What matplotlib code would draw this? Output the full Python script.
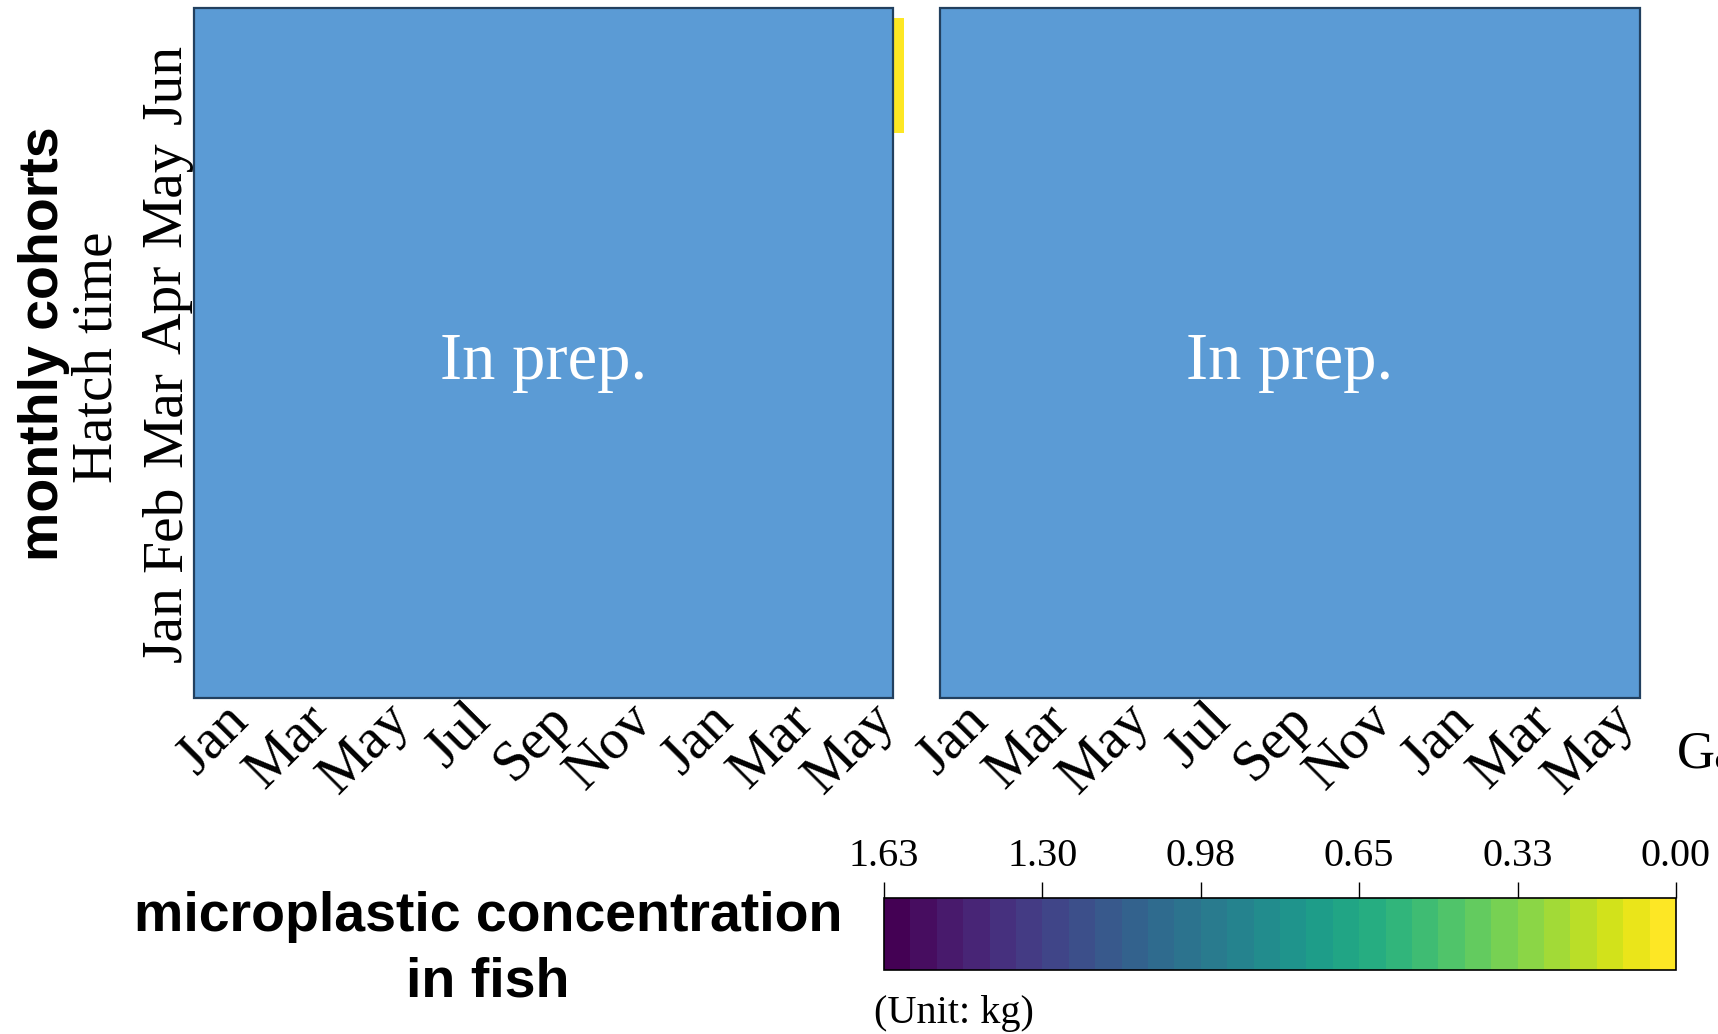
import numpy as np
import matplotlib as mpl
import matplotlib.pyplot as plt
from matplotlib.colors import Normalize
from matplotlib.patches import Rectangle

W, H = 1718, 1034
SERIF = 'Liberation Serif'
SANS = 'Liberation Sans'

months = ['Jan', 'Feb', 'Mar', 'Apr', 'May', 'Jun',
          'Jul', 'Aug', 'Sep', 'Oct', 'Nov', 'Dec']
hatch_months = ['Jan', 'Feb', 'Mar', 'Apr', 'May', 'Jun']
n_cols = 18  # Jan (year 1) .. Jun (year 2)
col_labels = [months[i % 12] for i in range(n_cols)]

# the panels are covered by "In prep." boxes; only one cell peeks out
# (Jun cohort, last column, left panel)
left_conc = np.full((len(hatch_months), n_cols), np.nan)
left_conc[5, 17] = 0.00
right_conc = np.full((len(hatch_months), n_cols), np.nan)

conc_min, conc_max = 0.0, 1.63
n_levels = 30
cbar_ticks = np.linspace(conc_max, conc_min, 6)

box_face = '#5b9bd5'
box_edge = '#22405f'

# layout (pixels from top of figure)
AX_TOP, AX_BOT = 8, 698
ROW_TOP = 18          # top of the top heat-map row
ROW_PX = 115          # height of one row
ytick_px = [624, 529, 419, 309, 194, 84]

cmap = plt.get_cmap('viridis_r', n_levels)
norm = Normalize(conc_min, conc_max)

fig = plt.figure(figsize=(W / 100, H / 100), dpi=100)


def px_axes(x0, y0, x1, y1):
    return fig.add_axes([x0 / W, 1 - y1 / H, (x1 - x0) / W, (y1 - y0) / H])


def panel(x0, x_box, x_ax, tick0, data, show_y):
    ax = px_axes(x0, AX_TOP, x_ax, AX_BOT)
    ppm = 80.75 / 2  # pixels per month
    nrow = len(hatch_months)
    ax.imshow(data, cmap=cmap, norm=norm, origin='lower', aspect='auto',
              interpolation='nearest',
              extent=(-0.5, n_cols - 0.5, -0.5, nrow - 0.5))
    ax.set_xlim((x0 - tick0) / ppm, (x_ax - tick0) / ppm)
    ytop = nrow - 0.5 + (ROW_TOP - AX_TOP) / ROW_PX
    ax.set_ylim(ytop - (AX_BOT - AX_TOP) / ROW_PX, ytop)
    for s in ax.spines.values():
        s.set_visible(False)
    frac = (x_box - x0) / (x_ax - x0)
    ax.add_patch(Rectangle((0, 0), frac, 1, transform=ax.transAxes,
                           facecolor=box_face, edgecolor=box_edge, lw=1.6,
                           clip_on=False, zorder=3))
    ax.text(frac / 2, 0.486, 'In prep.', transform=ax.transAxes, color='white',
            fontsize=48, family=SERIF, ha='center', va='center', zorder=4)

    xt = np.arange(0, 17, 2)
    ax.set_xticks(xt)
    ax.set_xticklabels([col_labels[i] for i in xt], family=SERIF, fontsize=41,
                       rotation=45, ha='right', va='top', rotation_mode='anchor')
    ax.tick_params(axis='x', length=0, pad=-3)
    if show_y:
        ax.set_yticks([ytop - (p - AX_TOP) / ROW_PX for p in ytick_px])
        ax.set_yticklabels(hatch_months, family=SERIF, fontsize=41.5,
                           rotation=90, va='center', ha='right')
        ax.tick_params(axis='y', length=0, pad=1)
    else:
        ax.set_yticks([])
    return ax


panel(194, 893, 903, 222, left_conc, True)
panel(940, 1640, 1640, 962, right_conc, False)

fig.text(44 / W, 1 - 344 / H, 'monthly cohorts', rotation=90, ha='center',
         va='center', fontsize=40, fontweight='bold', family=SANS)
fig.text(97 / W, 1 - 357 / H, 'Hatch time', rotation=90, ha='center',
         va='center', fontsize=41, family=SERIF)
fig.text(1677 / W, 1 - 768 / H, 'Ga', ha='left', va='baseline',
         fontsize=38, family=SERIF)

# colour bar
cax = px_axes(884, 898, 1676, 970)
sm = mpl.cm.ScalarMappable(norm=norm, cmap=cmap)
cb = fig.colorbar(sm, cax=cax, orientation='horizontal')
cax.invert_xaxis()
cb.set_ticks(cbar_ticks)
cb.set_ticklabels([f'{v:.2f}' for v in cbar_ticks])
cax.xaxis.set_ticks_position('top')
cax.tick_params(axis='x', direction='out', length=11.5, width=1.0,
                labelsize=29, pad=5)
for lab in cax.get_xticklabels():
    lab.set_family(SERIF)
cb.outline.set_linewidth(1.2)
cax.text(-0.013, -0.6, '(Unit: kg)', transform=cax.transAxes, ha='left',
         va='center', fontsize=29, family=SERIF)

fig.text(488 / W, 1 - 950 / H, 'microplastic concentration\nin fish',
         ha='center', va='center', multialignment='center', fontsize=40,
         fontweight='bold', family=SANS, linespacing=1.33)

fig.savefig('out.png', dpi=100)
